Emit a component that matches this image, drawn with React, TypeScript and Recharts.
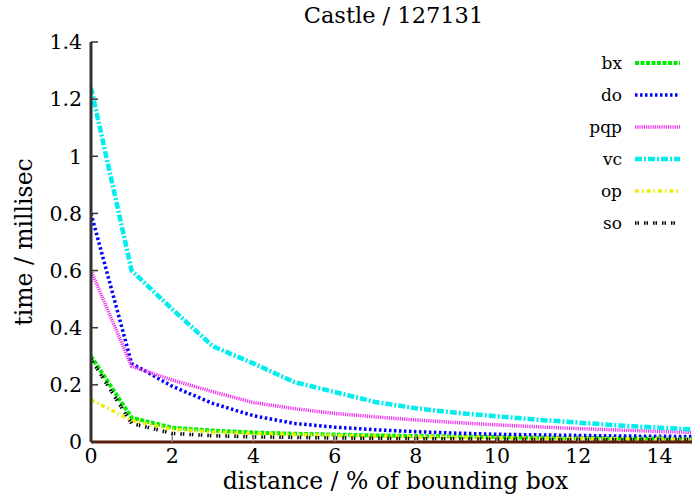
import { LineChart, Line, XAxis, YAxis, Legend } from 'recharts';

const xs = [0, 1, 2, 3, 4, 5, 6, 7, 8, 9, 10, 11, 12, 13, 14, 15];
const bx = [0.3, 0.085, 0.05, 0.04, 0.033, 0.029, 0.026, 0.023, 0.021, 0.019, 0.017, 0.015, 0.014, 0.013, 0.012, 0.011];
const doVals = [0.8, 0.275, 0.195, 0.135, 0.092, 0.065, 0.052, 0.043, 0.036, 0.031, 0.027, 0.025, 0.023, 0.021, 0.02, 0.019];
const pqp = [0.6, 0.265, 0.217, 0.176, 0.138, 0.117, 0.1, 0.088, 0.077, 0.068, 0.06, 0.053, 0.047, 0.042, 0.037, 0.033];
const vc = [1.24, 0.6, 0.465, 0.335, 0.275, 0.21, 0.175, 0.14, 0.118, 0.102, 0.09, 0.078, 0.068, 0.058, 0.05, 0.043];
const op = [0.148, 0.075, 0.045, 0.035, 0.03, 0.026, 0.023, 0.02, 0.018, 0.016, 0.015, 0.013, 0.012, 0.011, 0.01, 0.01];
const so = [0.29, 0.065, 0.03, 0.022, 0.018, 0.016, 0.014, 0.013, 0.012, 0.011, 0.01, 0.009, 0.009, 0.008, 0.008, 0.008];

const xTicks = [0, 2, 4, 6, 8, 10, 12, 14];
const yTicks = [0, 0.2, 0.4, 0.6, 0.8, 1, 1.2, 1.4];

const data = xs.map((x, i) => ({
  x,
  bx: bx[i],
  do: doVals[i],
  pqp: pqp[i],
  vc: vc[i],
  op: op[i],
  so: so[i],
}));

const series = [
  { key: 'bx', color: '#00ee00', dash: '4 1.5', width: 4 },
  { key: 'do', color: '#0000ff', dash: '2.5 2.5', width: 3.5 },
  { key: 'pqp', color: '#ee33ee', dash: '1.2 1', width: 3.5 },
  { key: 'vc', color: '#00eeee', dash: '7 2 2 2', width: 4.5 },
  { key: 'op', color: '#eeee00', dash: '4 3 1.5 3', width: 3.5 },
  { key: 'so', color: '#000000', dash: '1.5 1 1.5 5', width: 3.5 },
];

const font = '"DejaVu Serif", serif';

function renderLegend() {
  return (
    <div style={{ fontFamily: font, fontSize: 17 }}>
      {series.map((s) => (
        <div key={s.key} style={{ display: 'flex', alignItems: 'center', height: 32 }}>
          <span style={{ width: 62, textAlign: 'right', paddingRight: 13 }}>{s.key}</span>
          <svg width={46} height={8}>
            <line x1={0} y1={4} x2={45} y2={4} stroke={s.color} strokeWidth={s.width} strokeDasharray={s.dash} />
          </svg>
        </div>
      ))}
    </div>
  );
}

export default function App() {
  return (
    <div style={{ position: 'absolute', left: 0, top: 0, width: 692, height: 497, background: '#fff', fontFamily: font }}>
      <div style={{ position: 'absolute', top: 2, left: 93, width: 601, textAlign: 'center', fontSize: 22.5 }}>
        Castle / 127131
      </div>
      <LineChart width={692} height={497} data={data} margin={{ top: 42, right: 0, left: 0, bottom: 0 }}>
        <XAxis
          xAxisId="top"
          orientation="top"
          dataKey="x"
          type="number"
          domain={[0, 14.8]}
          allowDataOverflow
          ticks={xTicks}
          height={0}
          tickSize={-8}
          tickFormatter={() => ''}
          axisLine={{ stroke: '#000', strokeWidth: 1.5 }}
          tickLine={{ stroke: '#000', strokeWidth: 1.5 }}
        />
        <XAxis
          dataKey="x"
          type="number"
          domain={[0, 14.8]}
          allowDataOverflow
          ticks={xTicks}
          height={55}
          tickSize={-7}
          tickMargin={13}
          axisLine={{ stroke: '#5c1a08', strokeWidth: 3 }}
          tickLine={{ stroke: '#888', strokeWidth: 1.5 }}
          tick={{ fill: '#000', fontSize: 20.5, fontFamily: font }}
          label={{ value: 'distance / % of bounding box', position: 'insideBottom', offset: 8, dx: 4, fill: '#000', fontSize: 23.5, fontFamily: font }}
        />
        <YAxis
          type="number"
          domain={[0, 1.4]}
          allowDataOverflow
          ticks={yTicks}
          width={91}
          tickSize={-7}
          tickMargin={16}
          axisLine={{ stroke: '#333', strokeWidth: 3 }}
          tickLine={{ stroke: '#333', strokeWidth: 1.5 }}
          tick={{ fill: '#000', fontSize: 20.5, fontFamily: font }}
          label={{ value: 'time / millisec', angle: -90, position: 'insideLeft', offset: 24, fill: '#000', fontSize: 23.5, fontFamily: font, style: { textAnchor: 'middle' } }}
        />
        <Legend
          layout="horizontal"
          verticalAlign="middle"
          align="center"
          wrapperStyle={{ top: 47, left: 560, width: 132, height: 200 }}
          content={renderLegend}
        />
        {series.map((s) => (
          <Line
            key={s.key}
            xAxisId={0}
            dataKey={s.key}
            type="linear"
            stroke={s.color}
            strokeWidth={s.width}
            strokeDasharray={s.dash}
            dot={false}
            isAnimationActive={false}
          />
        ))}
      </LineChart>
    </div>
  );
}
